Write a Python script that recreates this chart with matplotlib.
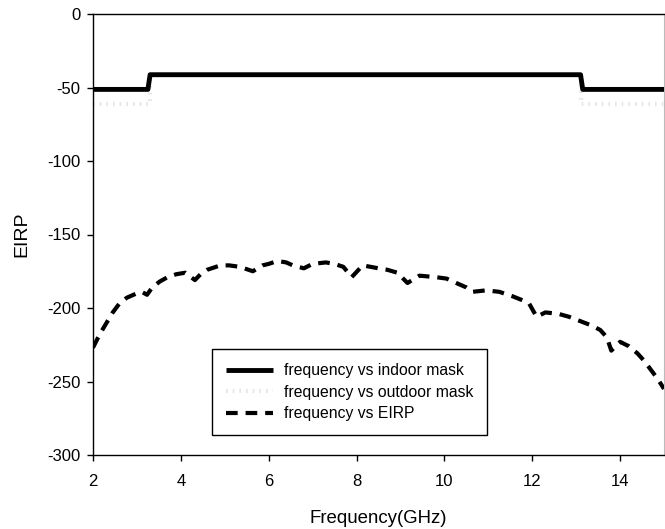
import matplotlib
matplotlib.use("Agg")
import matplotlib.pyplot as plt

plt.rcParams['font.family'] = ['Liberation Sans', 'DejaVu Sans']
plt.rcParams['axes.unicode_minus'] = False

# Indoor mask
indoor_f = [2.0, 3.25, 3.3, 13.1, 13.15, 15.0]
indoor_p = [-51.3, -51.3, -41.3, -41.3, -51.3, -51.3]
# Outdoor mask
outdoor_f = [2.0, 3.3, 3.3, 13.1, 13.1, 15.0]
outdoor_p = [-61.3, -61.3, -41.3, -41.3, -61.3, -61.3]
# EIRP
eirp_f = [2.0, 2.1, 2.23, 2.45, 2.6, 2.77, 3.0, 3.11, 3.23, 3.35, 3.52, 3.7, 3.9, 4.1,
          4.32, 4.45, 4.6, 4.9, 5.1, 5.34, 5.64, 5.86, 6.0, 6.2, 6.4, 6.55, 6.8,
          7.0, 7.3, 7.5, 7.7, 7.89, 8.14, 8.5, 8.7, 8.93, 9.16, 9.43, 9.8, 10.05,
          10.27, 10.5, 10.64, 10.95, 11.25, 11.55, 11.8, 11.93, 12.1, 12.3, 12.6,
          12.84, 13.1, 13.36, 13.55, 13.7, 13.8, 14.0, 14.2, 14.4, 14.55, 14.7,
          14.85, 15.0]
eirp_p = [-227, -221, -214, -203, -197, -193, -190, -189, -191, -186, -182, -179, -177, -176,
          -181, -177, -174, -171, -171, -172, -175, -171, -170, -168, -169, -171, -173,
          -170, -169, -170, -172, -179, -171, -173, -174, -176, -183, -178, -179, -180,
          -183, -186, -189, -188, -189, -192, -195, -197, -206, -203, -204,
          -206, -209, -212, -215, -220, -229, -223, -226, -231, -236, -242,
          -248, -255]

fig = plt.figure(figsize=(6.65, 5.29), dpi=100)
ax = fig.add_axes([93/665, 1-455/529, 571/665, 441/529])

ax.plot(outdoor_f, outdoor_p, color='#e6e6e6', lw=3, linestyle=(0, (0.4, 1.2)),
        label='frequency vs outdoor mask', zorder=2)
ax.plot(indoor_f, indoor_p, color='black', lw=3.5, solid_capstyle='butt',
        label='frequency vs indoor mask', zorder=3)
ax.plot(eirp_f, eirp_p, color='black', lw=3, linestyle=(0, (2.8, 1.9)),
        label='frequency vs EIRP', zorder=3)

ax.set_xlim(2, 15)
ax.set_ylim(-300, 0)
ax.set_xticks([2, 4, 6, 8, 10, 12, 14])
ax.set_yticks([0, -50, -100, -150, -200, -250, -300])
ax.tick_params(direction='out', length=4, width=1, labelsize=12)
ax.tick_params(axis='x', pad=10)
ax.tick_params(axis='y', pad=5)
for s in ['left', 'bottom', 'top']:
    ax.spines[s].set_linewidth(1)
ax.spines['right'].set_color('#bbbbbb')
ax.set_xlabel('Frequency(GHz)', fontsize=13.4, labelpad=15)
ax.set_ylabel('EIRP', fontsize=14, labelpad=12)

handles, labels = ax.get_legend_handles_labels()
order = [1, 0, 2]
leg = ax.legend([handles[i] for i in order], [labels[i] for i in order],
                loc='lower left', bbox_to_anchor=(0.208, 0.045, 0.482, 0.2),
                mode='expand', borderaxespad=0, fancybox=False, edgecolor='black',
                framealpha=1, fontsize=11.3, handlelength=3.0, handletextpad=0.7,
                borderpad=0.9, labelspacing=0.4)
leg.get_frame().set_linewidth(1)

fig.savefig('out.png', dpi=100)
